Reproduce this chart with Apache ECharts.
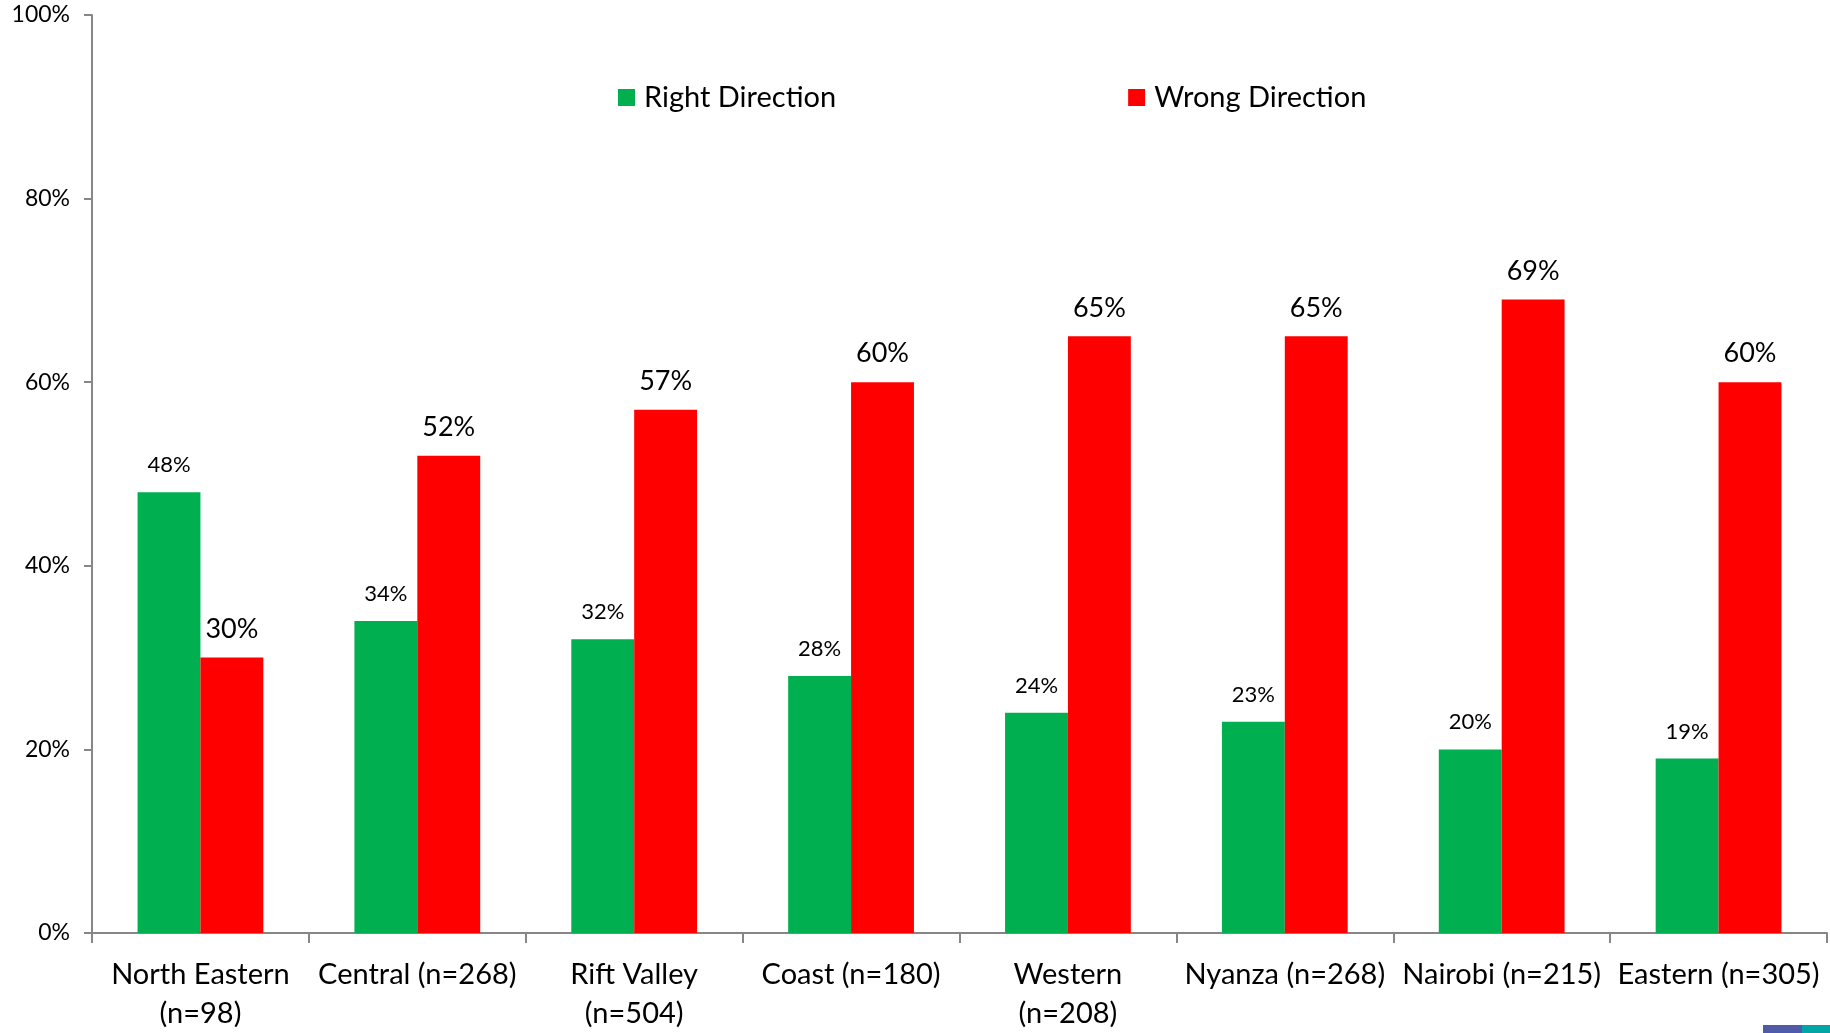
<!DOCTYPE html>
<html>
<head>
<meta charset="utf-8">
<script src="https://cdn.jsdelivr.net/npm/echarts@6/dist/echarts.min.js"></script>
<style>
html, body { margin: 0; padding: 0; background: #fff; }
#chart { width: 1830px; height: 1033px; }
</style>
</head>
<body>
<div id="chart"></div>
<script>
// regions and their sample sizes
var regions = ['North Eastern\n(n=98)', 'Central (n=268)', 'Rift Valley\n(n=504)', 'Coast (n=180)',
  'Western\n(n=208)', 'Nyanza (n=268)', 'Nairobi (n=215)', 'Eastern (n=305)'];
var rightDirection = [48, 34, 32, 28, 24, 23, 20, 19];
var wrongDirection = [30, 52, 57, 60, 65, 65, 69, 60];
var yTicks = [0, 20, 40, 60, 80, 100];

var font = 'Lato, "Noto Sans", sans-serif';
var axisGray = '#868686';

var chart = echarts.init(document.getElementById('chart'));
chart.setOption({
  animation: false,
  textStyle: { fontFamily: font, color: '#000' },
  grid: { left: 92, right: 3, top: 15, bottom: 98, containLabel: false },
  legend: {
    left: 613,
    top: 78,
    itemWidth: 17,
    itemHeight: 17,
    itemGap: 292,
    icon: 'rect',
    textStyle: { fontFamily: font, fontSize: 29, color: '#000', padding: [0, 0, 0, 4] },
    data: ['Right Direction', 'Wrong Direction']
  },
  xAxis: {
    type: 'category',
    data: regions,
    axisLine: { lineStyle: { color: axisGray, width: 2 } },
    axisTick: { show: true, length: 10, lineStyle: { color: axisGray, width: 2 } },
    axisLabel: { fontFamily: font, fontSize: 29, color: '#000', lineHeight: 39, margin: 22, interval: 0 }
  },
  yAxis: {
    type: 'value',
    min: yTicks[0],
    max: yTicks[yTicks.length - 1],
    interval: 20,
    splitLine: { show: false },
    axisLine: { show: true, lineStyle: { color: axisGray, width: 2 } },
    axisTick: { show: true, length: 8, lineStyle: { color: axisGray, width: 2 } },
    axisLabel: { fontFamily: font, fontSize: 23, color: '#000', margin: 22, formatter: '{value}%' }
  },
  series: [
    {
      name: 'Right Direction',
      type: 'bar',
      data: rightDirection,
      barGap: '0%',
      barCategoryGap: '42%',
      itemStyle: { color: '#00B050' },
      label: { show: true, position: 'top', distance: 16, fontFamily: font, fontSize: 22, color: '#000', formatter: '{c}%' }
    },
    {
      name: 'Wrong Direction',
      type: 'bar',
      data: wrongDirection,
      itemStyle: { color: '#FF0000' },
      label: { show: true, position: 'top', distance: 15, fontFamily: font, fontSize: 27, color: '#000', formatter: '{c}%' }
    }
  ],
  graphic: [
    { type: 'rect', shape: { x: 1763, y: 1025, width: 39, height: 8 }, style: { fill: '#4F5BA8' } },
    { type: 'rect', shape: { x: 1802, y: 1025, width: 28, height: 8 }, style: { fill: '#00A6A6' } }
  ]
});
</script>
</body>
</html>
